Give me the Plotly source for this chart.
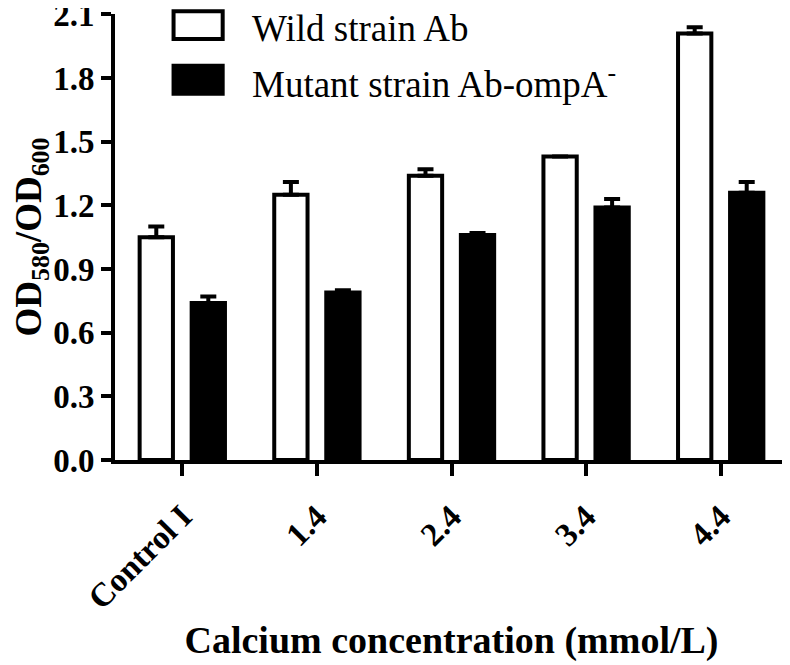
import plotly.graph_objects as go

# Biofilm formation (OD580/OD600) by calcium concentration
categories = ["Control I", "1.4", "2.4", "3.4", "4.4"]
wild_values = [1.05, 1.25, 1.34, 1.43, 2.01]
wild_errors = [0.05, 0.06, 0.03, 0.00, 0.03]
mutant_values = [0.74, 0.79, 1.06, 1.19, 1.26]
mutant_errors = [0.03, 0.01, 0.01, 0.04, 0.05]

FONT = "Liberation Serif, Times New Roman, serif"
BLACK = "#000000"

fig = go.Figure()

fig.add_trace(
    go.Bar(
        name="Wild strain Ab",
        x=categories,
        y=wild_values,
        marker=dict(color="white", line=dict(color=BLACK, width=4)),
        error_y=dict(
            type="data", symmetric=False, array=wild_errors,
            arrayminus=[0] * len(wild_errors),
            color=BLACK, thickness=4, width=8,
        ),
        showlegend=False,
    )
)
fig.add_trace(
    go.Bar(
        name="Mutant strain Ab-ompA<sup>-</sup>",
        x=categories,
        y=mutant_values,
        marker=dict(color=BLACK, line=dict(color=BLACK, width=4)),
        error_y=dict(
            type="data", symmetric=False, array=mutant_errors,
            arrayminus=[0] * len(mutant_errors),
            color=BLACK, thickness=4, width=8,
        ),
        showlegend=False,
    )
)

# Hand-drawn legend keys (large boxes like the original figure)
legend_items = [
    ("Wild strain Ab", "white", 1.006, 0.944, 0.967),
    ("Mutant strain Ab-ompA<sup>-</sup>", BLACK, 0.884, 0.821, 0.848),
]
for label, fill, y0, y1, ytext in legend_items:
    fig.add_shape(
        type="rect", xref="paper", yref="paper",
        x0=0.087, x1=0.160, y0=y1, y1=y0,
        fillcolor=fill, line=dict(color=BLACK, width=4),
    )
    fig.add_annotation(
        text=label, xref="paper", yref="paper", x=0.2, y=ytext,
        xanchor="left", yanchor="middle", showarrow=False,
        font=dict(family=FONT, size=37, color=BLACK),
    )

fig.update_layout(
    width=790,
    height=665,
    paper_bgcolor="white",
    plot_bgcolor="white",
    barmode="group",
    bargap=0.227,
    bargroupgap=0.36,
    margin=dict(l=107, r=10, t=6, b=213),
    font=dict(family=FONT, color=BLACK),
    xaxis=dict(
        range=[-0.5, 4.5],
        showline=True, linecolor=BLACK, linewidth=4,
        ticks="outside", ticklen=12, tickwidth=4, tickcolor=BLACK,
        tickangle=-45,
        ticklabelstandoff=8,
        tickfont=dict(family=FONT, size=33, color=BLACK, weight="bold"),
        title=dict(
            text="Calcium concentration (mmol/L)",
            font=dict(family=FONT, size=38, color=BLACK, weight="bold"),
            standoff=12,
        ),
        showgrid=False,
        automargin=False,
    ),
    yaxis=dict(
        range=[0, 2.102],
        tickvals=[0, 0.3, 0.6, 0.9, 1.2, 1.5, 1.8, 2.1],
        tickformat=".1f",
        ticklabeloverflow="allow",
        showline=True, linecolor=BLACK, linewidth=4,
        ticks="outside", ticklen=10, tickwidth=4, tickcolor=BLACK,
        tickfont=dict(family=FONT, size=33, color=BLACK, weight="bold"),
        title=dict(
            text="OD<sub>580</sub>/OD<sub>600</sub>",
            font=dict(family=FONT, size=37, color=BLACK, weight="bold"),
            standoff=6,
        ),
        showgrid=False,
        zeroline=False,
        automargin=False,
    ),
)

fig.write_html("out.html")
